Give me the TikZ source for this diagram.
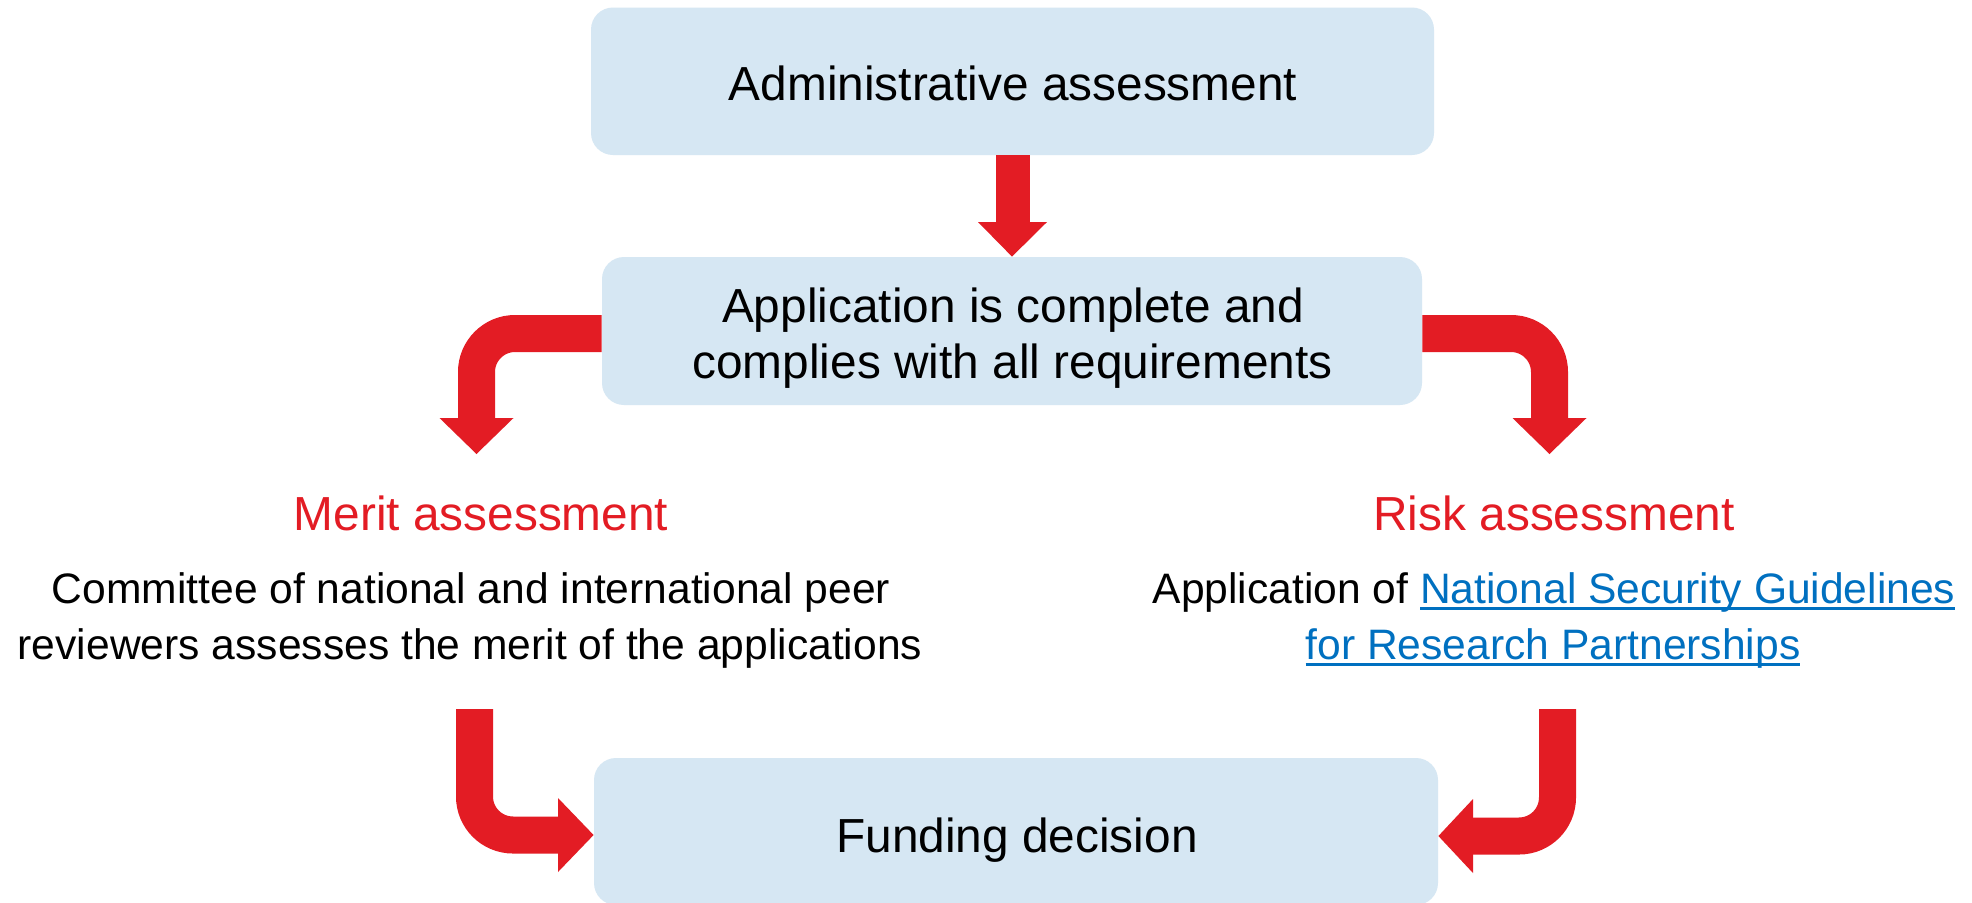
\documentclass[tikz,border=0pt]{standalone}
\usepackage{fontspec}
\setmainfont{Liberation Sans}
\usetikzlibrary{calc}
\definecolor{boxblue}{RGB}{214,231,243}
\definecolor{arrred}{RGB}{227,28,36}
\definecolor{linkblue}{RGB}{0,112,192}
\newcommand\linktext[1]{{\color{linkblue}\setbox0\hbox{#1}\rlap{\rule[-3.5pt]{\wd0}{1.5pt}}\box0}}
\begin{document}
\begin{tikzpicture}[x=0.5pt,y=-0.5pt,
  box/.style={fill=boxblue, rounded corners=11pt, inner sep=0pt},
  title/.style={font=\fontsize{23.9pt}{28pt}\selectfont, anchor=base, inner sep=0pt},
  body/.style={font=\fontsize{21.3pt}{28pt}\selectfont, anchor=base, inner sep=0pt},
  fat/.style={draw=arrred, line width=18.5pt, rounded corners=19.25pt},
  head/.style={fill=arrred}
]
\fill[white] (0,0) rectangle (1972,902);
\useasboundingbox (0,0) rectangle (1972,902);
\clip (0,0) rectangle (1972,902);

% boxes
\node[box, minimum width=421.5pt, minimum height=73.75pt] (adm) at (1012.5,81.25) {};
\node[box, minimum width=410pt, minimum height=74pt] (app) at (1012,331) {};
\node[box, minimum width=422pt, minimum height=73.5pt] (fund) at (1016,831.5) {};

% box texts
\node[title] (admt) at (1013,100) {Administrative assessment};
\node[title] (appt1) at (1013,322) {Application is complete and};
\node[title] (appt2) at (1012.5,378) {complies with all requirements};
\node[title] (fundt) at (1017,852) {Funding decision};

% branch texts
\node[title, text=arrred] (merit) at (481,530) {Merit assessment};
\node[body] (merit1) at (471,603) {Committee of national and international peer};
\node[body] (merit2) at (470,659) {reviewers assesses the merit of the applications};
\node[title, text=arrred] (risk) at (1554,530) {Risk assessment};
\node[body] (risk1) at (1554,603) {Application of \linktext{National Security Guidelines}};
\node[body] (risk2) at (1553,659) {\linktext{for Research Partnerships}};

% arrow 1: adm -> app
\coordinate (h1) at (1012.5,222);
\draw[fat, line width=17pt] (adm.south) -- (h1);
\fill[head] ($(h1)+(-34.5,0)$) -- ($(h1)+(34.5,0)$) -- (app.north) -- cycle;

% arrow 2: app -> merit
\coordinate (h2) at (476.5,418);
\draw[fat] ($(app.west)+(0,2.5)$) -| (h2);
\fill[head] ($(h2)+(-37,0)$) -- ($(h2)+(37,0)$) -- ($(h2)+(0,36)$) -- cycle;

% arrow 3: app -> risk
\coordinate (h3) at (1549.5,418);
\draw[fat] ($(app.east)+(0,2.5)$) -| (h3);
\fill[head] ($(h3)+(-37,0)$) -- ($(h3)+(37,0)$) -- ($(h3)+(0,36)$) -- cycle;

% arrow 4: merit -> fund
\coordinate (m0) at (474.5,709);
\coordinate (h4) at (558,835);
\draw[fat] (m0) |- (h4);
\fill[head] ($(h4)+(0,-37)$) -- ($(h4)+(0,37)$) -- ($(fund.west)+(0,3.5)$) -- cycle;

% arrow 5: risk -> fund
\coordinate (r0) at (1557.5,709);
\coordinate (h5) at (1473,836);
\draw[fat] (r0) |- (h5);
\fill[head] ($(h5)+(0,-37)$) -- ($(h5)+(0,37)$) -- ($(fund.east)+(0,4.5)$) -- cycle;
\end{tikzpicture}
\end{document}
